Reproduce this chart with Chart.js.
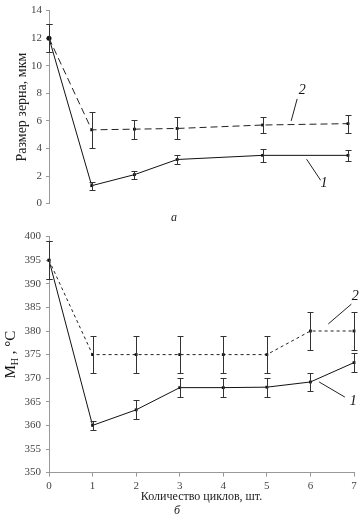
<!DOCTYPE html>
<html>
<head>
<meta charset="utf-8">
<script src="https://cdn.jsdelivr.net/npm/chart.js@4"></script>
<style>
  body { margin: 0; background: #fff; }
  canvas { display: block; }
</style>
</head>
<body>
<canvas id="grainChart" width="360" height="225"></canvas>
<canvas id="msChart" width="360" height="295"></canvas>
<script>
// top chart: grain size, um
const grainCycles = [0, 1, 2, 3, 5, 7];
const grain1 = [12, 1.3, 2.1, 3.2, 3.5, 3.5];
const grain1Err = [1, 0.3, 0.3, 0.35, 0.45, 0.4];
const grain2 = [12, 5.35, 5.4, 5.45, 5.7, 5.8];
const grain2Err = [1, 1.3, 0.7, 0.8, 0.6, 0.65];
const grainTicks = [0, 2, 4, 6, 8, 10, 12, 14];

// bottom chart: Ms, °C
const cycles = [0, 1, 2, 3, 4, 5, 6, 7];
const ms1 = [395, 360, 363.3, 368, 368, 368.1, 369.2, 373.3];
const ms1Err = [4, 1, 2, 2, 2, 2, 2, 2];
const ms2 = [395, 375, 375, 375, 375, 375, 380, 380];
const ms2Err = [4, 4, 4, 4, 4, 4, 4, 4];
const msTicks = [350, 355, 360, 365, 370, 375, 380, 385, 390, 395, 400];

const serif = 'Liberation Serif';
const pts = (xs, ys) => xs.map((x, i) => ({ x: x, y: ys[i] }));

const errorBars = {
  id: 'errorBars',
  afterDatasetsDraw(chart) {
    const { ctx, scales: { x, y } } = chart;
    ctx.save();
    ctx.strokeStyle = '#333';
    ctx.lineWidth = 1;
    chart.data.datasets.forEach(ds => {
      if (!ds.errors) return;
      ds.data.forEach((p, i) => {
        const px = Math.round(x.getPixelForValue(p.x)) + 0.5;
        const t = Math.round(y.getPixelForValue(p.y + ds.errors[i])) + 0.5;
        const b = Math.round(y.getPixelForValue(p.y - ds.errors[i])) + 0.5;
        ctx.beginPath();
        ctx.moveTo(px, t); ctx.lineTo(px, b);
        ctx.moveTo(px - 3, t); ctx.lineTo(px + 3, t);
        ctx.moveTo(px - 3, b); ctx.lineTo(px + 3, b);
        ctx.stroke();
      });
    });
    ctx.restore();
  }
};

// curve labels "1", "2" with leader lines, placed in data coordinates
function callouts(list) {
  return {
    id: 'callouts',
    afterDraw(chart) {
      const { ctx, scales: { x, y } } = chart;
      ctx.save();
      ctx.strokeStyle = '#222';
      ctx.lineWidth = 1;
      ctx.fillStyle = '#111';
      ctx.font = 'italic 14px "' + serif + '"';
      ctx.textAlign = 'center';
      ctx.textBaseline = 'middle';
      list.forEach(c => {
        ctx.beginPath();
        ctx.moveTo(x.getPixelForValue(c.from[0]), y.getPixelForValue(c.from[1]));
        ctx.lineTo(x.getPixelForValue(c.to[0]), y.getPixelForValue(c.to[1]));
        ctx.stroke();
        ctx.fillText(c.text, x.getPixelForValue(c.at[0]), y.getPixelForValue(c.at[1]));
      });
      ctx.restore();
    }
  };
}

const msTitle = {
  id: 'msTitle',
  afterDraw(chart) {
    const { ctx, chartArea } = chart;
    ctx.save();
    ctx.translate(11, (chartArea.top + chartArea.bottom) / 2);
    ctx.rotate(-Math.PI / 2);
    ctx.fillStyle = '#111';
    ctx.textBaseline = 'middle';
    ctx.textAlign = 'left';
    const big = '15px "' + serif + '"';
    const small = '10px "' + serif + '"';
    ctx.font = big;
    const wM = ctx.measureText('M').width;
    const wRest = ctx.measureText(' , °C').width;
    ctx.font = small;
    const wSub = ctx.measureText('Н').width;
    let cx = -(wM + wSub + wRest) / 2;
    ctx.font = big;
    ctx.fillText('M', cx, 0);
    cx += wM;
    ctx.font = small;
    ctx.fillText('Н', cx, 4);
    cx += wSub;
    ctx.font = big;
    ctx.fillText(' , °C', cx, 0);
    ctx.restore();
  }
};

const tickFont = { family: serif, size: 11 };

new Chart(document.getElementById('grainChart'), {
  type: 'line',
  data: {
    datasets: [{
      label: '1',
      data: pts(grainCycles, grain1),
      errors: grain1Err,
      borderColor: '#111',
      borderWidth: 1,
      backgroundColor: '#111',
      pointStyle: c => c.dataIndex === 0 ? 'circle' : 'rect',
      pointRadius: c => c.dataIndex === 0 ? 2.5 : 2,
      pointBorderWidth: 0,
      clip: false
    }, {
      label: '2',
      data: pts(grainCycles, grain2),
      errors: grain2Err,
      borderColor: '#222',
      borderWidth: 1,
      borderDash: [7, 4],
      backgroundColor: '#111',
      pointStyle: 'rect',
      pointRadius: 2,
      pointBorderWidth: 0,
      clip: false
    }]
  },
  options: {
    responsive: false,
    animation: false,
    devicePixelRatio: 1,
    layout: { padding: { top: 5, right: 12, left: 0, bottom: 0 } },
    plugins: {
      legend: { display: false },
      tooltip: { enabled: false },
      title: {
        display: true,
        position: 'bottom',
        text: 'а',
        color: '#222',
        font: { family: serif, size: 12, style: 'italic', weight: 'normal' },
        padding: { top: 7, bottom: 0 }
      }
    },
    scales: {
      x: { type: 'linear', min: 0, max: 7, display: false },
      y: {
        min: 0,
        max: 14,
        afterBuildTicks: s => { s.ticks = grainTicks.map(v => ({ value: v })); },
        afterFit: s => { s.width = 49; },
        ticks: { font: tickFont, color: '#444', padding: 4 },
        grid: { drawOnChartArea: false, tickLength: 3, color: '#999' },
        border: { color: '#999' },
        title: {
          display: true,
          text: 'Размер зерна, мкм',
          color: '#222',
          font: { family: serif, size: 14 },
          padding: { top: 14, bottom: 0 }
        }
      }
    }
  },
  plugins: [errorBars, callouts([
    { text: '2', at: [5.93, 8.2], from: [5.81, 7.6], to: [5.67, 6.0] },
    { text: '1', at: [6.44, 1.45], from: [6.03, 3.22], to: [6.36, 1.69] }
  ])]
});

new Chart(document.getElementById('msChart'), {
  type: 'line',
  data: {
    datasets: [{
      label: '1',
      data: pts(cycles, ms1),
      errors: ms1Err,
      borderColor: '#111',
      borderWidth: 1,
      backgroundColor: '#111',
      pointStyle: 'rect',
      pointRadius: 2,
      pointBorderWidth: 0,
      clip: false
    }, {
      label: '2',
      data: pts(cycles, ms2),
      errors: ms2Err,
      borderColor: '#222',
      borderWidth: 1,
      borderDash: [3, 3],
      backgroundColor: '#111',
      pointStyle: 'rect',
      pointRadius: 2,
      pointBorderWidth: 0,
      clip: false
    }]
  },
  options: {
    responsive: false,
    animation: false,
    devicePixelRatio: 1,
    layout: { padding: { top: 8, right: 6, left: 0, bottom: 0 } },
    plugins: {
      legend: { display: false },
      tooltip: { enabled: false },
      title: {
        display: true,
        position: 'bottom',
        text: 'б',
        color: '#222',
        font: { family: serif, size: 12, style: 'italic', weight: 'normal' },
        padding: { top: 0, bottom: 2 }
      }
    },
    scales: {
      x: {
        type: 'linear',
        min: 0,
        max: 7,
        afterBuildTicks: s => { s.ticks = cycles.map(v => ({ value: v })); },
        afterFit: s => { s.height = 31; },
        ticks: { font: tickFont, color: '#444', padding: 3 },
        grid: { drawOnChartArea: false, tickLength: 4, color: '#999' },
        border: { color: '#999' },
        title: {
          display: true,
          text: 'Количество циклов, шт.',
          color: '#222',
          font: { family: serif, size: 12 },
          padding: { top: 0, bottom: 0 }
        }
      },
      y: {
        min: 350,
        max: 400,
        afterBuildTicks: s => { s.ticks = msTicks.map(v => ({ value: v })); },
        afterFit: s => { s.width = 49; },
        ticks: { font: tickFont, color: '#444', padding: 5 },
        grid: { drawOnChartArea: false, tickLength: 3, color: '#999' },
        border: { color: '#999' }
      }
    }
  },
  plugins: [errorBars, msTitle, callouts([
    { text: '2', at: [7.03, 387.3], from: [6.94, 385.7], to: [6.41, 381.5] },
    { text: '1', at: [6.98, 365.1], from: [6.2, 369.2], to: [6.79, 366.0] }
  ])]
});
</script>
</body>
</html>
